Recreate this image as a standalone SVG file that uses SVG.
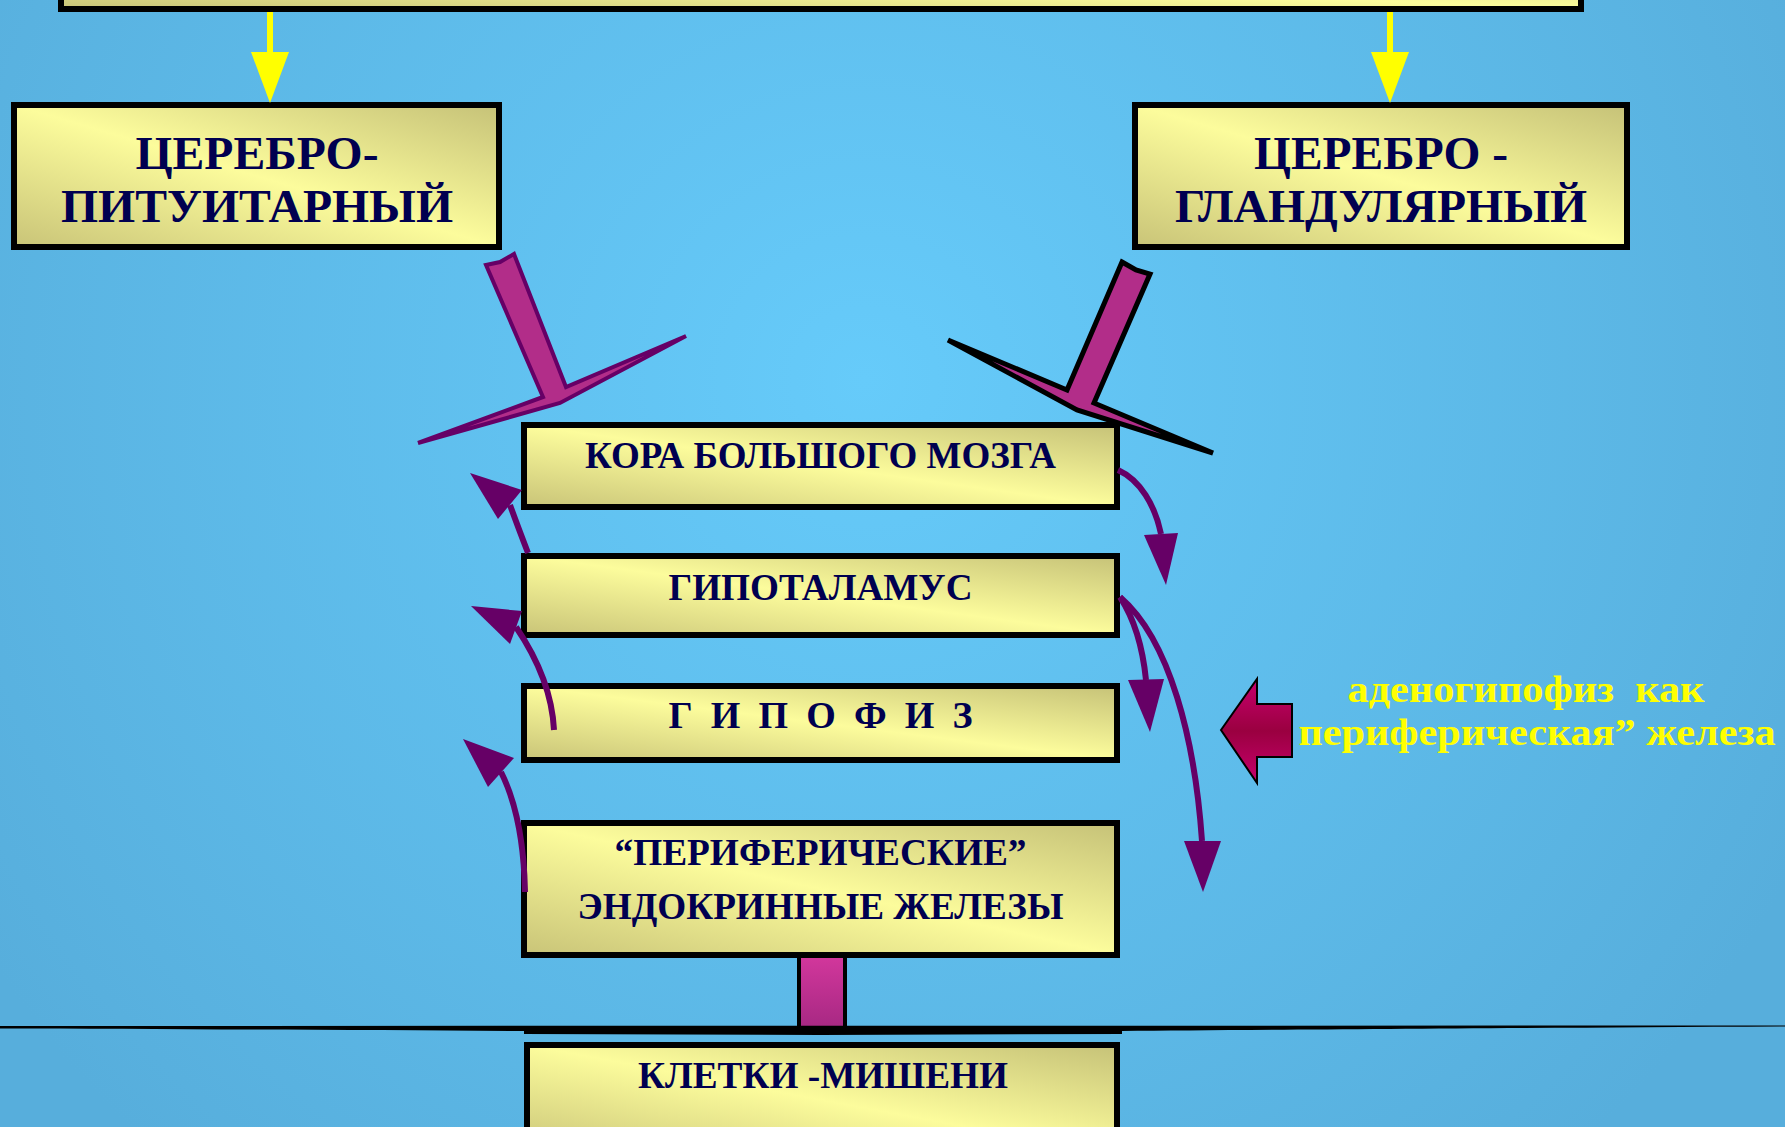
<svg xmlns="http://www.w3.org/2000/svg" width="1785" height="1127" viewBox="0 0 1785 1127">
<defs>
<radialGradient id="bg" gradientUnits="userSpaceOnUse" cx="865" cy="380" r="1050">
<stop offset="0" stop-color="#66CBFA"/>
<stop offset="1" stop-color="#57AEDC"/>
</radialGradient>
<linearGradient id="boxfill" x1="0" y1="1" x2="1" y2="0">
<stop offset="0" stop-color="#C9C478"/>
<stop offset="0.5" stop-color="#FCFC9C"/>
<stop offset="1" stop-color="#C6C278"/>
</linearGradient>
<linearGradient id="mag" x1="0" y1="0" x2="0" y2="1">
<stop offset="0" stop-color="#C8006E"/>
<stop offset="0.5" stop-color="#9A0040"/>
<stop offset="1" stop-color="#C8006E"/>
</linearGradient>
<linearGradient id="stemfill" x1="0" y1="0" x2="0" y2="1">
<stop offset="0" stop-color="#D2379C"/>
<stop offset="1" stop-color="#A62882"/>
</linearGradient>
<style>
.box{fill:url(#boxfill);stroke:#000;stroke-width:6}
.t{font-family:"Liberation Serif","Times New Roman",serif;font-weight:bold;fill:#000050;text-anchor:middle}
.big{font-size:47px}
.mid{font-size:38px}
.yl{font-family:"Liberation Serif","Times New Roman",serif;font-weight:bold;fill:#FFFF00;text-anchor:middle;font-size:37px}
.curve{fill:none;stroke:#660066;stroke-width:6}
.head{fill:#660066}
.yarrow{fill:#FFFF00}
</style>
</defs>
<rect x="0" y="0" width="1785" height="1127" fill="url(#bg)"/>

<g id="node-top">
<rect class="box" x="61" y="-50" width="1520" height="59"/>
</g>

<g id="node-cerebro-pituitary">
<rect class="box" x="14" y="105" width="485" height="142"/>
<text class="t big"><tspan x="257" y="169" textLength="243" lengthAdjust="spacingAndGlyphs">ЦЕРЕБРО-</tspan><tspan x="257" y="222" textLength="392" lengthAdjust="spacingAndGlyphs">ПИТУИТАРНЫЙ</tspan></text>
</g>

<g id="node-cerebro-glandular">
<rect class="box" x="1135" y="105" width="492" height="142"/>
<text class="t big"><tspan x="1381" y="169" textLength="254" lengthAdjust="spacingAndGlyphs">ЦЕРЕБРО -</tspan><tspan x="1381" y="222" textLength="412" lengthAdjust="spacingAndGlyphs">ГЛАНДУЛЯРНЫЙ</tspan></text>
</g>

<g id="node-cortex">
<rect class="box" x="524" y="425" width="593" height="82"/>
<text class="t mid" x="820.5" y="468" textLength="471" lengthAdjust="spacingAndGlyphs">КОРА БОЛЬШОГО МОЗГА</text>
</g>

<g id="node-hypothalamus">
<rect class="box" x="524" y="556" width="593" height="79"/>
<text class="t mid" x="820.5" y="600" textLength="304" lengthAdjust="spacingAndGlyphs">ГИПОТАЛАМУС</text>
</g>

<g id="node-hypophysis">
<rect class="box" x="524" y="686" width="593" height="74"/>
<text class="t mid" x="820.5" y="728" textLength="304" lengthAdjust="spacing">Г И П О Ф И З</text>
</g>

<g id="node-endocrine">
<rect class="box" x="524" y="823" width="593" height="132"/>
<text class="t mid"><tspan x="820.5" y="865" textLength="412" lengthAdjust="spacingAndGlyphs">“ПЕРИФЕРИЧЕСКИЕ”</tspan><tspan x="820.5" y="919" textLength="486" lengthAdjust="spacingAndGlyphs">ЭНДОКРИННЫЕ ЖЕЛЕЗЫ</tspan></text>
</g>

<g id="node-target-cells">
<rect class="box" x="527" y="1045" width="590" height="110"/>
<text class="t mid" x="823" y="1088" textLength="370" lengthAdjust="spacingAndGlyphs">КЛЕТКИ -МИШЕНИ</text>
</g>

<g id="label-adenohypophysis">
<text class="yl" xml:space="preserve"><tspan x="1526" y="702" textLength="357" lengthAdjust="spacingAndGlyphs">аденогипофиз  как</tspan><tspan x="1537" y="745" textLength="477" lengthAdjust="spacingAndGlyphs">периферическая” железа</tspan></text>
</g>

<g id="connectors">
<!-- yellow arrows from top box -->
<rect class="yarrow" x="267" y="12" width="6" height="42"/>
<polygon class="yarrow" points="251,52 289,52 270,103"/>
<rect class="yarrow" x="1387" y="12" width="6" height="42"/>
<polygon class="yarrow" points="1371,52 1409,52 1390,103"/>

<!-- big magenta arrows into cortex -->
<polygon points="486,265 500,262 514,254 566,387 686,336 560,403 418,443 543,397" fill="#B22D89" stroke="#660066" stroke-width="4"/>
<polygon points="1122,262 1136,270 1150,274 1094,403 1213,453 1077,410 948,340 1067,390" fill="#B22D89" stroke="#000" stroke-width="5"/>

<!-- left feedback arrows -->
<path class="curve" d="M528,553 Q518,527 510,505"/>
<polygon class="head" points="470,473 498,519 522,490"/>
<path class="curve" d="M554,730 C552,690 535,655 516,627"/>
<polygon class="head" points="471,606 510,644 522,611"/>
<path class="curve" d="M525,892 C524,840 515,800 501,772"/>
<polygon class="head" points="463,739 488,787 514,758"/>

<!-- right descending arrows -->
<path class="curve" d="M1118,470 C1140,480 1155,505 1161,534"/>
<polygon class="head" points="1144,535 1178,533 1166,585"/>
<path class="curve" d="M1120,597 C1135,620 1143,650 1146,680"/>
<polygon class="head" points="1128,680 1164,679 1150,732"/>
<path class="curve" d="M1120,597 C1170,640 1195,740 1202,841"/>
<polygon class="head" points="1184,841 1221,841 1203,892"/>

<!-- pointer to adenohypophysis label -->
<polygon points="1221,730 1257,679 1257,704 1292,704 1292,757 1257,757 1257,783" fill="url(#mag)" stroke="#000" stroke-width="2"/>

<!-- stem to target cells -->
<rect x="799" y="956" width="46" height="74" fill="url(#stemfill)" stroke="#000" stroke-width="4"/>
<path d="M0,1026 L1785,1025.5 L1785,1026.5 C1500,1028 1250,1030 1122,1031 L1122,1034 L820,1035 L524,1034 L524,1031 C350,1030 150,1029 0,1028.5 Z" fill="#000"/>
</g>
</svg>
